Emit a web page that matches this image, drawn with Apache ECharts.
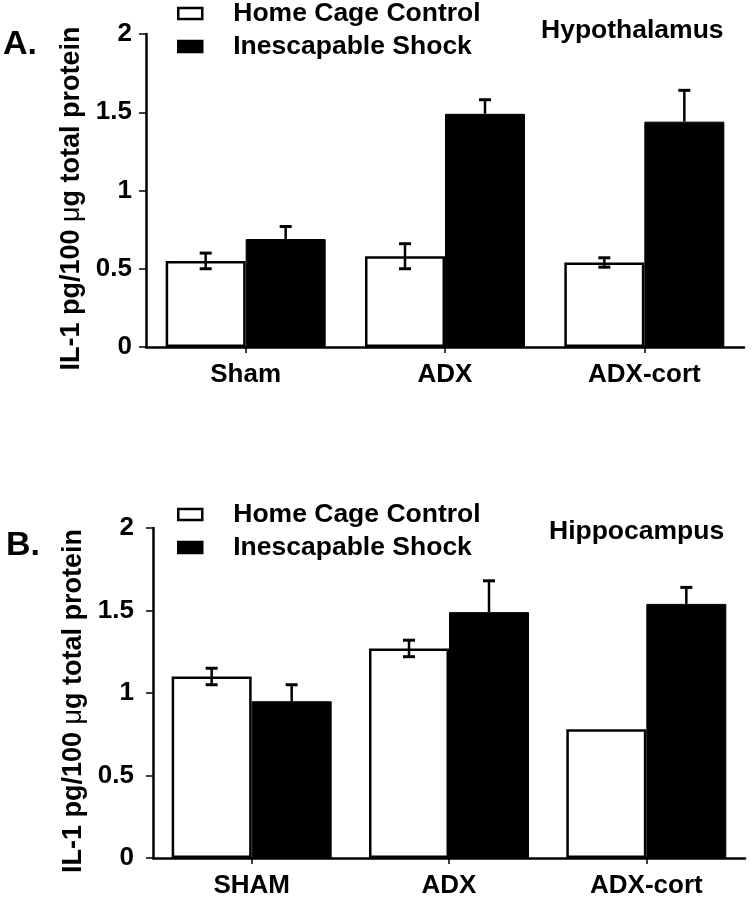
<!DOCTYPE html>
<html>
<head>
<meta charset="utf-8">
<script src="https://cdn.jsdelivr.net/npm/echarts@6/dist/echarts.min.js"></script>
<style>
html,body{margin:0;padding:0;background:#fff;}
#chart{width:752px;height:899px;}
</style>
</head>
<body>
<div id="chart"></div>
<script>
// ---- data ----
const seriesNames = ['Home Cage Control', 'Inescapable Shock'];
const catsTop = ['Sham', 'ADX', 'ADX-cort'];
const catsBottom = ['SHAM', 'ADX', 'ADX-cort'];
const yTicks = [0, 0.5, 1, 1.5, 2];

// Panel A: Hypothalamus
const homeTop = [0.55, 0.58, 0.54];
const homeTopErr = [0.05, 0.08, 0.03];
const shockTop = [0.69, 1.49, 1.44];
const shockTopErr = [0.08, 0.09, 0.20];

// Panel B: Hippocampus
const homeBottom = [1.10, 1.27, 0.78];
const homeBottomErr = [0.05, 0.05, 0];
const shockBottom = [0.95, 1.49, 1.54];
const shockBottomErr = [0.10, 0.19, 0.10];

// ---- styling ----
const FONT = "'Liberation Sans', Arial, Helvetica, sans-serif";
const BAR_W = 80;
const CAP = 6;

function errData(vals, errs) {
  return vals.map((v, i) => [i, v, errs[i]]);
}
function errRender(side, both) {
  return function (params, api) {
    const i = api.value(0), v = api.value(1), e = api.value(2);
    if (!e) return null;
    const c = api.coord([i, v]);
    const x = c[0] + side * BAR_W / 2;
    const top = api.coord([i, v + e])[1];
    const bot = both ? api.coord([i, v - e])[1] : c[1];
    const st = { stroke: '#000', lineWidth: 2.5 };
    const capSt = { stroke: '#000', lineWidth: 3 };
    const ch = [
      { type: 'line', shape: { x1: x, y1: top, x2: x, y2: bot }, style: st },
      { type: 'line', shape: { x1: x - CAP, y1: top, x2: x + CAP, y2: top }, style: capSt }
    ];
    if (both) ch.push({ type: 'line', shape: { x1: x - CAP, y1: bot, x2: x + CAP, y2: bot }, style: capSt });
    return { type: 'group', children: ch };
  };
}

const axisLineStyle = { color: '#000', width: 2.5 };
function makeY(gridIndex, labelMargin, nameGap) {
  return {
    type: 'value', gridIndex: gridIndex, min: yTicks[0], max: yTicks[yTicks.length - 1], interval: 0.5,
    splitLine: { show: false },
    axisLine: { show: true, lineStyle: axisLineStyle },
    axisTick: { show: true, length: 7, lineStyle: { color: '#000', width: 1.5 } },
    axisLabel: { color: '#000', fontSize: 26, fontWeight: 'bold', fontFamily: FONT, margin: labelMargin },
    name: 'IL-1 pg/100 {mu|μ}g total protein',
    nameLocation: 'middle', nameGap: nameGap,
    nameTextStyle: {
      color: '#000', fontSize: 27, fontWeight: 'bold', fontFamily: FONT,
      padding: [0, 16, 0, 0],
      rich: { mu: { fontSize: 27, fontWeight: 'normal', fontFamily: FONT, color: '#000' } }
    }
  };
}
function makeX(gridIndex, cats) {
  return {
    type: 'category', gridIndex: gridIndex, data: cats,
    axisLine: { show: true, lineStyle: axisLineStyle },
    axisTick: { show: true, alignWithLabel: true, length: 6, lineStyle: { color: '#000', width: 1.5 } },
    axisLabel: { color: '#000', fontSize: 26, fontWeight: 'bold', fontFamily: FONT, margin: 15 },
    splitLine: { show: false }
  };
}
function legendAt(top) {
  return {
    orient: 'vertical', left: 177, top: top, padding: 0,
    icon: 'rect',
    itemWidth: 24, itemHeight: 11, itemGap: 6,
    data: seriesNames,
    itemStyle: { borderColor: '#000', borderWidth: 2.5 },
    textStyle: { color: '#000', fontSize: 26.5, fontWeight: 'bold', fontFamily: FONT, padding: [0, 0, 0, 26] }
  };
}
const whiteStyle = { color: '#fff', borderColor: '#000', borderWidth: 2.5 };
const blackStyle = { color: '#000', borderColor: '#000', borderWidth: 1 };

const option = {
  animation: false,
  backgroundColor: '#fff',
  textStyle: { fontFamily: FONT },
  title: [
    { text: 'A.', left: 3, top: 28, padding: 0, textStyle: { fontSize: 34, fontWeight: 'bold', fontFamily: FONT, color: '#000' } },
    { text: 'Hypothalamus', left: 541, top: 17, padding: 0, textStyle: { fontSize: 26.5, fontWeight: 'bold', fontFamily: FONT, color: '#000' } },
    { text: 'B.', left: 6, top: 529, padding: 0, textStyle: { fontSize: 34, fontWeight: 'bold', fontFamily: FONT, color: '#000' } },
    { text: 'Hippocampus', left: 549, top: 518, padding: 0, textStyle: { fontSize: 26.5, fontWeight: 'bold', fontFamily: FONT, color: '#000' } }
  ],
  legend: [legendAt(0), legendAt(501)],
  grid: [
    { left: 146, top: 34, width: 598, height: 313 },
    { left: 153, top: 528, width: 592, height: 330 }
  ],
  xAxis: [makeX(0, catsTop), makeX(1, catsBottom)],
  yAxis: [makeY(0, 14, 58), makeY(1, 19, 64)],
  series: [
    { name: seriesNames[0], type: 'bar', xAxisIndex: 0, yAxisIndex: 0, data: homeTop, barWidth: BAR_W, barGap: '0%', itemStyle: whiteStyle },
    { name: seriesNames[1], type: 'bar', xAxisIndex: 0, yAxisIndex: 0, data: shockTop, barWidth: BAR_W, barGap: '0%', itemStyle: blackStyle },
    { name: seriesNames[0], type: 'bar', xAxisIndex: 1, yAxisIndex: 1, data: homeBottom, barWidth: BAR_W, barGap: '0%', itemStyle: whiteStyle },
    { name: seriesNames[1], type: 'bar', xAxisIndex: 1, yAxisIndex: 1, data: shockBottom, barWidth: BAR_W, barGap: '0%', itemStyle: blackStyle },
    { name: 'errHomeTop', type: 'custom', xAxisIndex: 0, yAxisIndex: 0, z: 5, data: errData(homeTop, homeTopErr), renderItem: errRender(-1, true), encode: { x: 0, y: 1 } },
    { name: 'errShockTop', type: 'custom', xAxisIndex: 0, yAxisIndex: 0, z: 5, data: errData(shockTop, shockTopErr), renderItem: errRender(1, false), encode: { x: 0, y: 1 } },
    { name: 'errHomeBottom', type: 'custom', xAxisIndex: 1, yAxisIndex: 1, z: 5, data: errData(homeBottom, homeBottomErr), renderItem: errRender(-1, true), encode: { x: 0, y: 1 } },
    { name: 'errShockBottom', type: 'custom', xAxisIndex: 1, yAxisIndex: 1, z: 5, data: errData(shockBottom, shockBottomErr), renderItem: errRender(1, false), encode: { x: 0, y: 1 } }
  ]
};

const chart = echarts.init(document.getElementById('chart'), null, { renderer: 'canvas' });
chart.setOption(option);
</script>
</body>
</html>
